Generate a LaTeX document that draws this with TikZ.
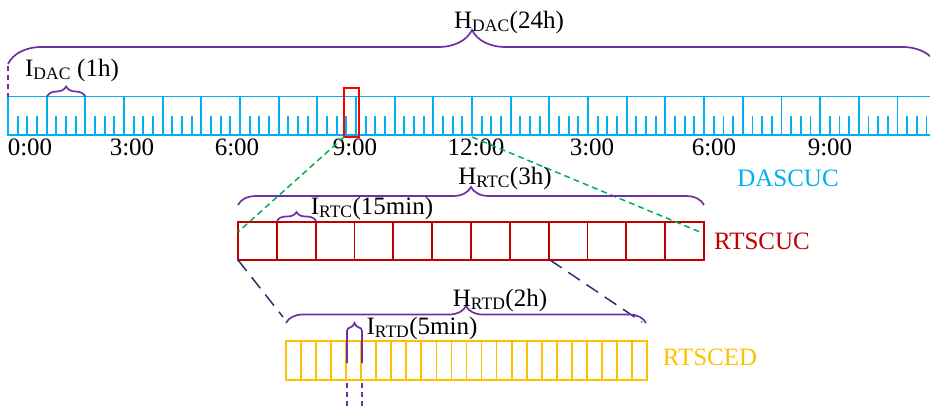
\documentclass[tikz,border=0pt]{standalone}
\usepackage{fontspec}
\setmainfont{Liberation Serif}
\usepackage{tikz}
\usetikzlibrary{calc, decorations.pathreplacing}

\definecolor{dascuc}{HTML}{00B0F0}
\definecolor{rtscuc}{HTML}{C00000}
\definecolor{rtsced}{HTML}{FFC000}
\definecolor{horizon}{HTML}{7030A0}
\definecolor{zoomgreen}{HTML}{00B050}
\definecolor{zoomnavy}{HTML}{1F3864}

\begin{document}
\begin{tikzpicture}[x=1pt, y=-1pt,
    bar/.style={line width=1.8pt},
    hbrace/.style={horizon, line width=1.7pt, decorate, decoration={brace, amplitude=#1}},
    hdash/.style={horizon, line width=1.5pt, dash pattern=on 5pt off 4pt},
    lbl/.style={inner sep=0pt, font=\fontsize{25}{30}\selectfont}]
    \useasboundingbox (0,0) rectangle (930,408);
    \clip (0,0) rectangle (930,408);
    \pgfmathsetmacro\hourw{38.67}

    % day-ahead bar (24 h, 15 min ticks)
    \coordinate (D0) at (8,96.5);
    \draw[dascuc, bar] (D0) rectangle ++(24*\hourw, 38.5);
    \foreach \i in {1,...,23}
      \draw[dascuc, bar] ($(D0)+(\i*\hourw,0)$) -- ++(0,38.5);
    \foreach \i in {0,...,23}
      \foreach \q in {1,2,3}
        \draw[dascuc, bar] ($(D0)+(\i*\hourw+\q*\hourw/4,38.5)$) -- ++(0,-19);
    \foreach \xc/\txt [count=\k] in {30/0:00, 132/3:00, 237/6:00, 355/9:00, 476/12:00, 592/3:00, 714/6:00, 830/9:00}
      \node[lbl] (t\k) at (\xc,147) {\txt};
    \node[lbl, dascuc] (dascuc) at (788,178) {DASCUC};

    \draw[red, bar] (344,88) rectangle (359,137);
    \coordinate (Z1) at (344,137);
    \coordinate (Z2) at (472,137);

    % real-time unit commitment bar
    \coordinate (C0) at (238,222);
    \draw[rtscuc, bar] (C0) rectangle ++(466,38);
    \foreach \i in {1,...,11}
      \draw[rtscuc, bar] ($(C0)+(\i*38.83,0)$) -- ++(0,38);
    \node[lbl, rtscuc] (rtscuc) at (762,241) {RTSCUC};
    \coordinate (C1) at (238,232);
    \coordinate (C2) at (700,232);
    \coordinate (C3) at (238,260);
    \coordinate (C4) at (550,260);

    % real-time dispatch bar
    \coordinate (E0) at (286,341);
    \draw[rtsced, bar] (E0) rectangle ++(361,39);
    \foreach \i in {1,...,23}
      \draw[rtsced, bar] ($(E0)+(\i*15.04,0)$) -- ++(0,39);
    \node[lbl, rtsced] (rtsced) at (710,357) {RTSCED};
    \coordinate (E1) at (283,317);
    \coordinate (E2) at (642,322);

    % zoom lines
    \draw[zoomgreen, line width=1.5pt, dash pattern=on 6pt off 4pt] (Z1) -- (C1);
    \draw[zoomgreen, line width=1.5pt, dash pattern=on 6pt off 4pt] (Z2) -- (C2);
    \draw[zoomnavy, line width=1.5pt, dash pattern=on 14pt off 8pt] (C3) -- (E1);
    \draw[zoomnavy, line width=1.5pt, dash pattern=on 14pt off 8pt] (C4) -- (E2);

    % horizons and intervals
    \draw[hbrace=34] (8,64) -- (936,64);
    \draw[hdash] (8,66) -- (8,96.5);
    \node[lbl] (hdac) at (509,22) {H\textsubscript{DAC}(24h)};
    \draw[hbrace=10] (47,96.5) -- (85.3,96.5);
    \node[lbl] (idac) at (72,70) {I\textsubscript{DAC} (1h)};

    \draw[hbrace=18] (238,205) -- (704,205);
    \node[lbl] (hrtc) at (505,178) {H\textsubscript{RTC}(3h)};
    \draw[hbrace=9] (277,221) -- (316,221);
    \node[lbl] (irtc) at (372,208) {I\textsubscript{RTC}(15min)};

    \draw[hbrace=17] (286,323) -- (646,323);
    \node[lbl] (hrtd) at (500,300) {H\textsubscript{RTD}(2h)};
    \draw[horizon, line width=1.7pt] (347,363) -- (347,331)
      .. controls (347,326) and (353,329) .. (354.5,323)
      .. controls (356,329) and (362,326) .. (362,331) -- (362,363);
    \draw[hdash] (347,383) -- (347,410) (362,383) -- (362,410);
    \node[lbl] (irtd) at (422,328) {I\textsubscript{RTD}(5min)};
\end{tikzpicture}
\end{document}
